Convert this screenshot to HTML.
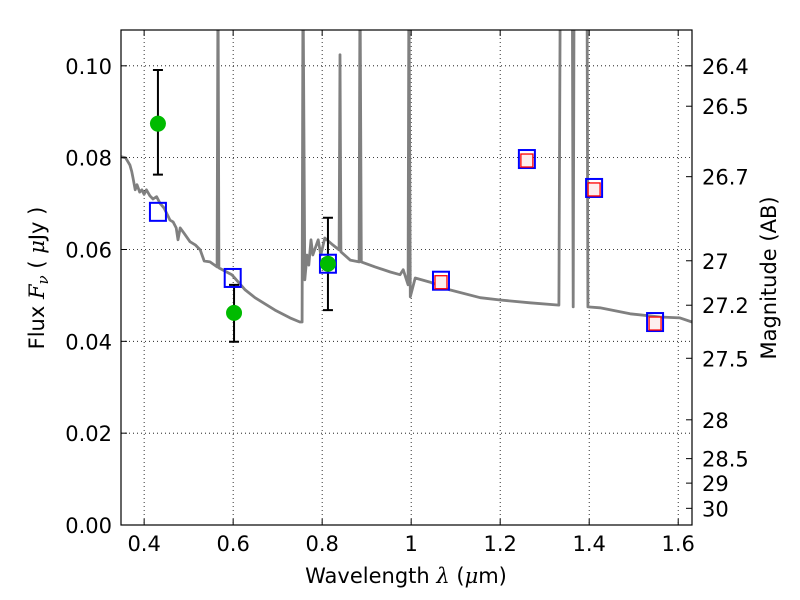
<!DOCTYPE html>
<html><head><meta charset="utf-8"><style>
body{margin:0;background:#fff;}
svg{display:block;font-family:"DejaVu Sans","Liberation Sans",sans-serif;}
</style></head><body>
<svg id="chart" width="800" height="600" xmlns="http://www.w3.org/2000/svg">
<defs><clipPath id="clip"><rect x="121" y="30" width="571" height="495"/></clipPath></defs>
<rect width="800" height="600" fill="#fff"/>
<g id="grid"></g>
<g id="marks" clip-path="url(#clip)"></g>
<g id="points"></g>
<rect x="121" y="30" width="571" height="495" fill="none" stroke="#000" stroke-width="1.2"/>
<g id="axes"></g>
<text x="406" y="583" font-size="21" text-anchor="middle">Wavelength  <tspan font-style="italic" font-family="'DejaVu Serif',serif">λ</tspan> (<tspan font-style="italic" font-family="'DejaVu Serif',serif">μ</tspan>m)</text>
<text transform="translate(44,278) rotate(-90)" font-size="21" text-anchor="middle">Flux  <tspan font-style="italic" font-family="'DejaVu Serif',serif">F<tspan font-size="15" dy="4">ν</tspan></tspan><tspan dy="-4">  ( </tspan><tspan font-style="italic" font-family="'DejaVu Serif',serif">μ</tspan>Jy )</text>
<text transform="translate(776,278) rotate(-90)" font-size="21" text-anchor="middle">Magnitude (AB)</text>
</svg>
<script>
const xTicks=[0.4,0.6,0.8,1.0,1.2,1.4,1.6];
const xTickLabels=["0.4","0.6","0.8","1","1.2","1.4","1.6"];
const yTicks=[0,0.02,0.04,0.06,0.08,0.10];
const yTickLabels=["0.00","0.02","0.04","0.06","0.08","0.10"];
const magTicks=[26.4,26.5,26.7,27,27.2,27.5,28,28.5,29,30];
const specWl=[0.348,0.358,0.368,0.372,0.375,0.380,0.384,0.390,0.395,0.400,0.405,0.413,0.420,0.428,0.436,0.445,0.458,0.465,0.472,0.476,0.481,0.490,0.503,0.515,0.526,0.535,0.548,0.564,0.566,0.568,0.597,0.627,0.649,0.694,0.728,0.750,0.755,0.757,0.761,0.766,0.770,0.775,0.779,0.791,0.797,0.806,0.824,0.838,0.840,0.842,0.863,0.883,0.885,0.888,0.919,0.953,0.975,0.982,0.993,0.995,0.998,1.009,1.042,1.087,1.155,1.200,1.267,1.332,1.335,1.362,1.364,1.366,1.395,1.397,1.424,1.492,1.559,1.604,1.631];
const specFlux=[0.0802,0.0800,0.0784,0.0770,0.0756,0.0730,0.0741,0.0725,0.0730,0.0720,0.0730,0.0717,0.0710,0.0715,0.0700,0.0690,0.0664,0.0660,0.0647,0.0621,0.0647,0.0635,0.0617,0.0610,0.0599,0.0575,0.0573,0.0562,0.12,0.0560,0.0545,0.0512,0.0495,0.0468,0.0451,0.0442,0.0442,0.12,0.0534,0.0588,0.0566,0.0621,0.0588,0.0621,0.0588,0.0625,0.0610,0.0599,0.1024,0.0595,0.0577,0.0573,0.12,0.0573,0.0562,0.0551,0.0545,0.0556,0.0523,0.12,0.0497,0.0538,0.0529,0.0512,0.0495,0.0490,0.0484,0.0479,0.12,0.12,0.0475,0.12,0.12,0.0475,0.0473,0.0460,0.0453,0.0451,0.0442];
const obsWl=[0.431,0.602,0.813];
const obsFlux=[0.0874,0.0462,0.0569];
const obsErrLo=[0.0763,0.0399,0.0468];
const obsErrHi=[0.0991,0.0523,0.0669];
const modWl=[0.431,0.599,0.813,1.067,1.260,1.411,1.548];
const modFlux=[0.0682,0.0538,0.0569,0.0532,0.0797,0.0734,0.0442];
const redWl=[1.067,1.260,1.411,1.548];
const redFlux=[0.0532,0.0797,0.0734,0.0442];

const NS="http://www.w3.org/2000/svg";
const X0=121,X1=692,Y0=525,Y1=30,XMIN=0.348,XMAX=1.631,YMIN=0,YMAX=0.1078;
function sx(v){return X0+(v-XMIN)/(XMAX-XMIN)*(X1-X0);}
function sy(v){return Y0-(v-YMIN)/(YMAX-YMIN)*(Y0-Y1);}
function magToFlux(m){return Math.pow(10,(23.9-m)/2.5);}
function mk(tag,attrs,parent){const e=document.createElementNS(NS,tag);for(const k in attrs)e.setAttribute(k,attrs[k]);parent.appendChild(e);return e;}
const grid=document.getElementById('grid'),axes=document.getElementById('axes'),marks=document.getElementById('marks'),pts=document.getElementById('points');
xTicks.forEach((t,i)=>{const x=sx(t);
 const g=mk('line',{x1:x,x2:x,y1:Y1,y2:Y0,stroke:'#000','stroke-width':0.8,'stroke-dasharray':'1,3'},grid);
 
 
 mk('line',{x1:x,x2:x,y1:Y0,y2:Y0-6,stroke:'#000'},axes);
 mk('line',{x1:x,x2:x,y1:Y1,y2:Y1+6,stroke:'#000'},axes);
 const tx=mk('text',{x:x,y:Y0+26,'font-size':21,'text-anchor':'middle'},axes);tx.textContent=xTickLabels[i];
 
 
});
yTicks.forEach((t,i)=>{const y=sy(t);
 const g=mk('line',{x1:X0,x2:X1,y1:y,y2:y,stroke:'#000','stroke-width':0.8,'stroke-dasharray':'1,3'},grid);
 
 
 mk('line',{x1:X0,x2:X0+6,y1:y,y2:y,stroke:'#000'},axes);
 const tx=mk('text',{x:X0-9,y:y+8,'font-size':21,'text-anchor':'end'},axes);tx.textContent=yTickLabels[i];
 
 
});
magTicks.forEach(m=>{const y=sy(magToFlux(m));
 mk('line',{x1:X1,x2:X1-6,y1:y,y2:y,stroke:'#000'},axes);
 const tx=mk('text',{x:X1+10,y:y+8,'font-size':21},axes);tx.textContent=String(m);
 
 
});
const d=specWl.map((w,i)=>(i?'L':'M')+sx(w).toFixed(1)+','+sy(specFlux[i]).toFixed(1)).join('');
const sp=mk('path',{d:d,fill:'none',stroke:'#808080','stroke-width':2.8,'stroke-linejoin':'round'},marks);


obsWl.forEach((w,i)=>{const x=sx(w);
 const e=mk('path',{d:`M${x},${sy(obsErrLo[i])}V${sy(obsErrHi[i])}M${x-5},${sy(obsErrLo[i])}h10M${x-5},${sy(obsErrHi[i])}h10`,stroke:'#000','stroke-width':2,fill:'none'},pts);
 
 
});
modWl.forEach((w,i)=>{
 const r=mk('rect',{x:sx(w)-8,y:sy(modFlux[i])-9,width:16,height:18,fill:'none',stroke:'#0000ff','stroke-width':2},pts);
 
 
});
redWl.forEach((w,i)=>{
 const r=mk('rect',{x:sx(w)-6,y:sy(redFlux[i])-5,width:12,height:13,fill:'#fdeeee',stroke:'#ff0000','stroke-width':1.3},pts);
 
 
});
obsWl.forEach((w,i)=>{
 const c=mk('circle',{cx:sx(w),cy:sy(obsFlux[i]),r:8,fill:'#00bb00'},pts);
 
 
});
</script>
</body></html>
